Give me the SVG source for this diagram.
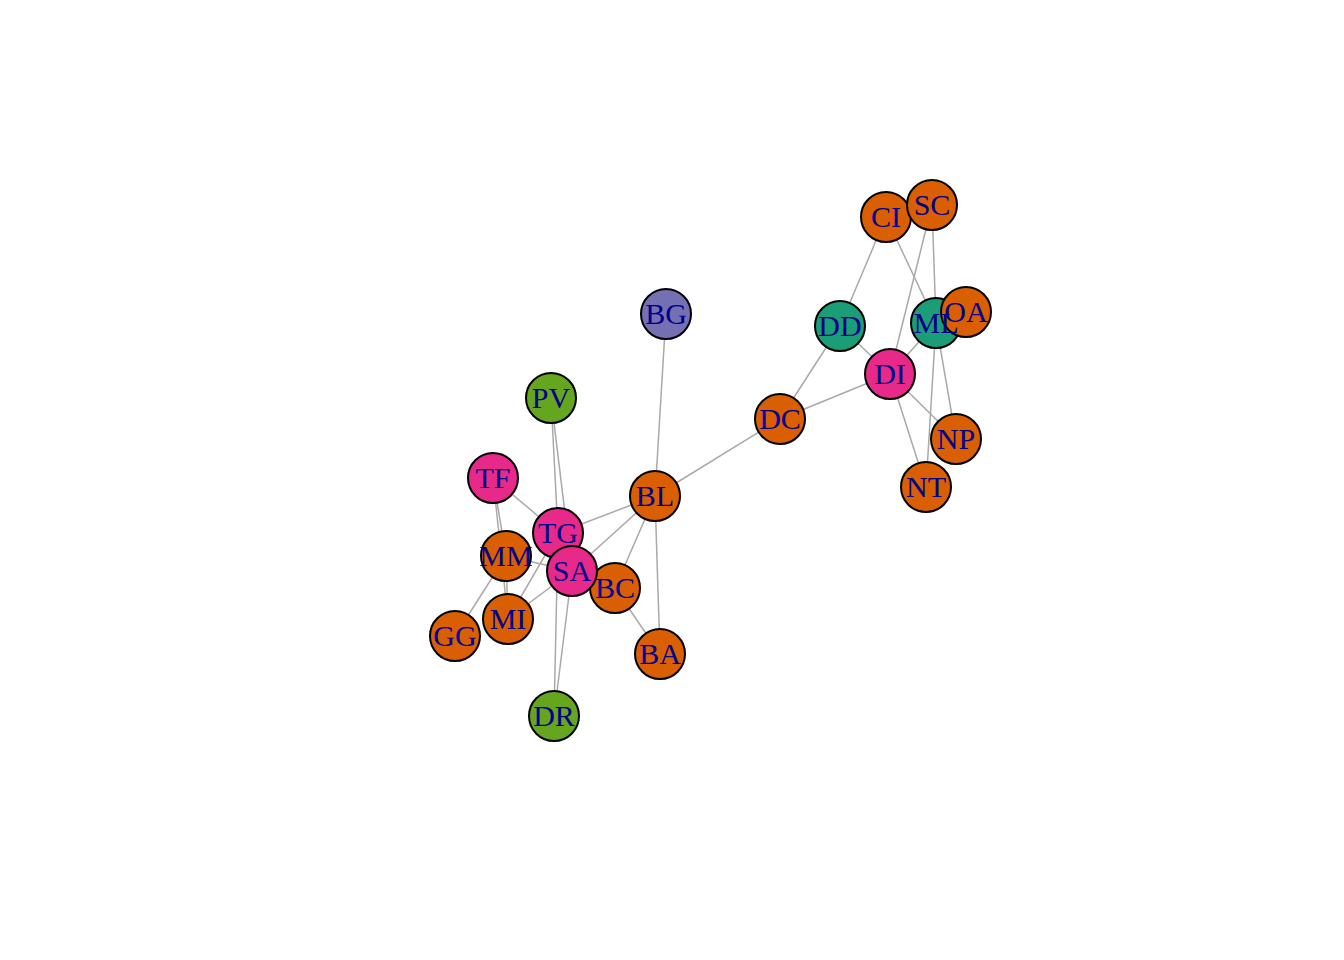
<svg xmlns="http://www.w3.org/2000/svg" width="1344" height="960" viewBox="0 0 1344 960">
<style>
.e{stroke:#A9A9A9;stroke-width:1.5;fill:none}
circle{stroke:#000;stroke-width:2}
.o{fill:#D95F02}.t{fill:#1B9E77}.p{fill:#7570B3}.k{fill:#E7298A}.g{fill:#66A61E}
text{font-family:"Liberation Serif","Times New Roman",serif;font-size:30px;fill:#00008B;text-anchor:middle}
</style>
<rect width="1344" height="960" fill="#fff"/>
<g id="edges">
<line class="e" x1="666" y1="314" x2="655" y2="496"/>
<line class="e" x1="655" y1="496" x2="780" y2="419"/>
<line class="e" x1="780" y1="419" x2="840" y2="326"/>
<line class="e" x1="780" y1="419" x2="890" y2="374"/>
<line class="e" x1="551" y1="398" x2="558" y2="533"/>
<line class="e" x1="551" y1="398" x2="572" y2="571"/>
<line class="e" x1="493" y1="478" x2="558" y2="533"/>
<line class="e" x1="493" y1="478" x2="506" y2="556"/>
<line class="e" x1="493" y1="478" x2="508" y2="619"/>
<line class="e" x1="506" y1="556" x2="508" y2="619"/>
<line class="e" x1="506" y1="556" x2="455" y2="636"/>
<line class="e" x1="506" y1="556" x2="572" y2="571"/>
<line class="e" x1="508" y1="619" x2="558" y2="533"/>
<line class="e" x1="508" y1="619" x2="572" y2="571"/>
<line class="e" x1="558" y1="533" x2="655" y2="496"/>
<line class="e" x1="572" y1="571" x2="655" y2="496"/>
<line class="e" x1="615" y1="588" x2="655" y2="496"/>
<line class="e" x1="615" y1="588" x2="660" y2="654"/>
<line class="e" x1="655" y1="496" x2="660" y2="654"/>
<line class="e" x1="572" y1="571" x2="554" y2="716"/>
<line class="e" x1="558" y1="533" x2="554" y2="716"/>
<line class="e" x1="886" y1="217" x2="840" y2="326"/>
<line class="e" x1="886" y1="217" x2="936" y2="323"/>
<line class="e" x1="932" y1="205" x2="890" y2="374"/>
<line class="e" x1="932" y1="205" x2="936" y2="323"/>
<line class="e" x1="840" y1="326" x2="890" y2="374"/>
<line class="e" x1="890" y1="374" x2="936" y2="323"/>
<line class="e" x1="890" y1="374" x2="956" y2="439"/>
<line class="e" x1="890" y1="374" x2="926" y2="487"/>
<line class="e" x1="936" y1="323" x2="956" y2="439"/>
<line class="e" x1="936" y1="323" x2="926" y2="487"/>
<line class="e" x1="936" y1="323" x2="966" y2="312"/>
</g>
<g id="nodes">
<g id="BG"><circle class="p" cx="666" cy="314" r="25"/></g>
<g id="PV"><circle class="g" cx="551" cy="398" r="25"/></g>
<g id="TF"><circle class="k" cx="493" cy="478" r="25"/></g>
<g id="BL"><circle class="o" cx="655" cy="496" r="25"/></g>
<g id="BC"><circle class="o" cx="615" cy="588" r="25"/></g>
<g id="TG"><circle class="k" cx="558" cy="533" r="25"/></g>
<g id="MM"><circle class="o" cx="506" cy="556" r="25"/></g>
<g id="SA"><circle class="k" cx="572" cy="571" r="25"/></g>
<g id="MI"><circle class="o" cx="508" cy="619" r="25"/></g>
<g id="GG"><circle class="o" cx="455" cy="636" r="25"/></g>
<g id="BA"><circle class="o" cx="660" cy="654" r="25"/></g>
<g id="DR"><circle class="g" cx="554" cy="716" r="25"/></g>
<g id="DC"><circle class="o" cx="780" cy="419" r="25"/></g>
<g id="DD"><circle class="t" cx="840" cy="326" r="25"/></g>
<g id="DI"><circle class="k" cx="890" cy="374" r="25"/></g>
<g id="ML"><circle class="t" cx="936" cy="323" r="25"/></g>
<g id="OA"><circle class="o" cx="966" cy="312" r="25"/></g>
<g id="CI"><circle class="o" cx="886" cy="217" r="25"/></g>
<g id="SC"><circle class="o" cx="932" cy="205" r="25"/></g>
<g id="NP"><circle class="o" cx="956" cy="439" r="25"/></g>
<g id="NT"><circle class="o" cx="926" cy="487" r="25"/></g>
</g>
<g id="labels">
<text x="666" y="324">BG</text>
<text x="551" y="408">PV</text>
<text x="493" y="488">TF</text>
<text x="655" y="506">BL</text>
<text x="615" y="598">BC</text>
<text x="558" y="543">TG</text>
<text x="506" y="566">MM</text>
<text x="572" y="581">SA</text>
<text x="508" y="629">MI</text>
<text x="455" y="646">GG</text>
<text x="660" y="664">BA</text>
<text x="554" y="726">DR</text>
<text x="780" y="429">DC</text>
<text x="840" y="336">DD</text>
<text x="890" y="384">DI</text>
<text x="936" y="333">ML</text>
<text x="966" y="322">OA</text>
<text x="886" y="227">CI</text>
<text x="932" y="215">SC</text>
<text x="956" y="449">NP</text>
<text x="926" y="497">NT</text>
</g>
</svg>
